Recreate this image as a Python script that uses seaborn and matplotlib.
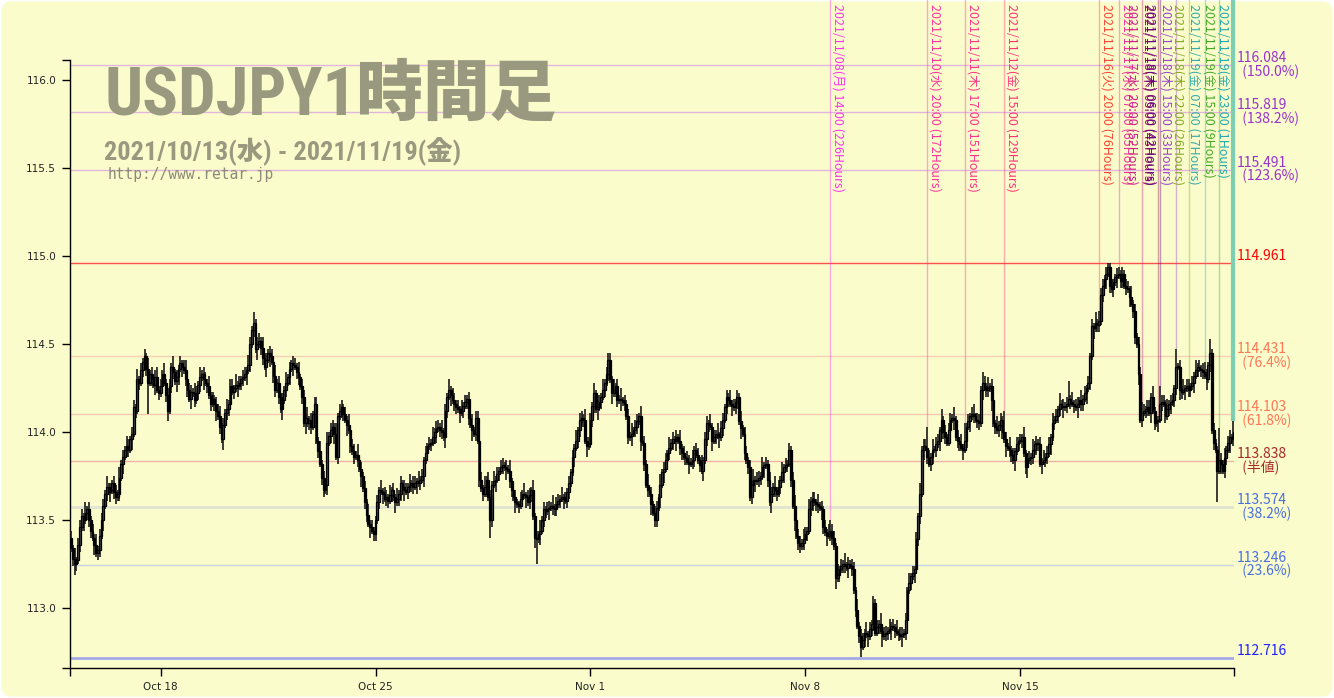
"""USDJPY 1-hour candles with fibonacci levels and time markers."""
import matplotlib
matplotlib.use("Agg")
import matplotlib.pyplot as plt
import numpy as np
import seaborn as sns
from matplotlib.patches import FancyBboxPatch

# hourly closes, in 0.01 yen above 112.00, one list per trading week
CLOSE_W0 = [134, 128, 125, 127, 136, 146, 152, 150, 154, 156, 150, 144, 140, 136, 131, 133, 141, 150, 158, 165,
            169, 166, 167, 171, 166, 163, 165, 174, 182, 186, 190, 192, 190, 196, 199, 214, 212, 230, 228, 235,
            240, 243, 236, 228, 233, 230, 227, 231, 224, 222]
CLOSE_W1 = [226, 233, 228, 221, 212, 226, 237, 234, 229, 231, 236, 239, 237, 235, 230, 224, 219, 223, 222, 218,
            222, 227, 231, 233, 230, 228, 226, 221, 216, 219, 216, 212, 209, 203, 196, 204, 211, 213, 216, 226,
            223, 225, 227, 226, 228, 230, 231, 233, 235, 238, 250, 258, 262, 247, 250, 252, 248, 242, 237, 241,
            245, 243, 240, 232, 224, 228, 220, 213, 218, 224, 228, 231, 236, 239, 238, 237, 234, 231, 226, 220,
            205, 208, 205, 207, 203, 210, 216, 195, 189, 182, 174, 167, 170, 194, 198, 201, 203, 199, 186, 209,
            212, 214, 210, 207, 204, 201, 192, 189, 186, 187, 184, 179, 175, 168, 160, 153, 148, 146, 144, 142]
CLOSE_W2 = [150, 160, 167, 166, 165, 162, 163, 161, 164, 167, 163, 160, 162, 165, 171, 169, 167, 166, 169, 170,
            171, 169, 171, 172, 171, 173, 175, 184, 188, 192, 193, 194, 197, 200, 202, 203, 201, 200, 197, 212,
            220, 224, 221, 218, 216, 214, 213, 211, 212, 215, 217, 219, 208, 204, 201, 199, 208, 195, 173, 168,
            165, 169, 173, 163, 150, 170, 172, 173, 176, 178, 180, 181, 180, 179, 178, 172, 167, 163, 160, 159,
            158, 162, 165, 164, 163, 160, 164, 167, 152, 140, 139, 142, 144, 150, 156, 155, 156, 157, 158, 157,
            156, 159, 161, 162, 163, 162, 161, 166, 171, 177, 186, 191, 195, 201, 207, 208, 207, 195, 192, 193]
CLOSE_W3 = [207, 215, 222, 213, 214, 217, 220, 224, 228, 233, 241, 230, 222, 224, 226, 218, 219, 218, 217, 216,
            209, 197, 198, 199, 201, 203, 206, 209, 195, 194, 182, 170, 167, 165, 159, 154, 150, 157, 163, 170,
            177, 179, 184, 188, 191, 194, 196, 195, 197, 195, 191, 188, 186, 185, 183, 182, 183, 184, 190, 187,
            184, 181, 178, 184, 196, 205, 204, 203, 195, 197, 199, 198, 197, 202, 207, 214, 220, 218, 216, 215,
            214, 217, 220, 206, 202, 199, 188, 184, 180, 163, 170, 173, 172, 173, 174, 175, 180, 181, 182, 173,
            160, 165, 169, 167, 165, 169, 173, 177, 180, 181, 182, 190, 173, 158, 150, 141, 137, 135, 137, 139]
CLOSE_W4 = [142, 144, 156, 161, 162, 160, 159, 158, 157, 156, 146, 143, 141, 142, 144, 140, 135, 117, 119, 122,
            124, 125, 124, 123, 125, 124, 122, 110, 99, 90, 84, 78, 82, 86, 85, 84, 88, 91, 103, 86,
            89, 91, 87, 84, 85, 86, 87, 88, 90, 89, 87, 86, 85, 84, 85, 86, 93, 110, 114, 118,
            120, 122, 139, 152, 165, 190, 192, 191, 186, 182, 186, 190, 190, 193, 195, 201, 207, 200, 197, 194,
            201, 207, 208, 207, 197, 195, 193, 191, 190, 195, 203, 206, 209, 210, 209, 207, 206, 205, 224, 228,
            226, 224, 225, 226, 218, 205, 203, 201, 204, 207, 200, 196, 192, 191, 190, 187, 184, 189, 193, 195]
CLOSE_W5 = [195, 197, 188, 180, 184, 185, 186, 190, 193, 194, 193, 182, 183, 184, 186, 188, 193, 197, 205, 207,
            209, 213, 216, 215, 214, 215, 216, 219, 217, 216, 215, 214, 216, 218, 216, 219, 222, 225, 228, 243,
            260, 259, 262, 261, 263, 278, 283, 287, 290, 294, 283, 281, 285, 288, 289, 290, 286, 290, 283, 282,
            281, 277, 273, 269, 254, 250, 233, 207, 211, 212, 213, 214, 211, 220, 212, 205, 206, 207, 216, 217,
            216, 209, 213, 216, 217, 218, 225, 237, 237, 224, 223, 224, 225, 226, 224, 226, 228, 232, 235, 237,
            236, 235, 234, 232, 230, 238, 245, 201, 194, 190, 178, 184, 182, 178, 185, 190, 194, 197, 196, 200]
OPEN0 = 113.40

# wicks beyond the body, one digit per hour, in steps of 0.02 yen
UP_W = ["2131222131" "2121312221" "3121221312" "1321221312" "1213121231",
        "2131221312" "1212312213" "2131221312" "1223121312" "2131212213" "2131221312"
        "1221312121" "3121221312" "2131212213" "1213122131" "2212131221" "3121213121",
        "1213122131" "2131212213" "1221312121" "2131221312" "1312212131" "2121312212"
        "1312213121" "2212131221" "1213122131" "2131212213" "1221312121" "2131221312",
        "2131221312" "2213121312" "1213122131" "2131212213" "1221312121" "3121221312"
        "2131221312" "1312212131" "2121312212" "1312213121" "2213121312" "1212312213",
        "2131221312" "1213322131" "2131212213" "1221312121" "2131221312" "1312212131"
        "2121312262" "1312213121" "2213121315" "1212312213" "2131221312" "1621312121",
        "2131221312" "1213122131" "2131212513" "1221312121" "2131322121" "1211221212"
        "2131212232" "1221312152" "2131221512" "1312212131" "2123214121" "1921312213"]
DN_W = ["1232121312" "2213122131" "2131221213" "1221312121" "2129121312",
        "1212312213" "2131221312" "1221312121" "2312131221" "1213122131" "2121312213"
        "1312212131" "2121312212" "1312214121" "2213121312" "1221312121" "2131221312",
        "2121312212" "1312213121" "2213121312" "1212312213" "2131221312" "1221312121"
        "2131521312" "1213122131" "2121312213" "7131221312" "2212131221" "1312212131",
        "1221312121" "2131221312" "1213122131" "2121312213" "1312212131" "2212131221"
        "1213122131" "2131212213" "1221312121" "2131221312" "1312212131" "2121312212",
        "1212312213" "2131221312" "1221312121" "2312131221" "1213122131" "2121312212"
        "1312213121" "2212131221" "1213122131" "2131212213" "1221312121" "2131221312",
        "1212312213" "2131221312" "1221312121" "2131221312" "1312212131" "2121312212"
        "1312213121" "2213121312" "1212312213" "2131221312" "1221312121" "9131221312"]
WICK_UNIT = 0.02

WEEK_STARTS = [50, 170, 290, 410, 530]
WEEK_LABELS = ["Oct 18", "Oct 25", "Nov 1", "Nov 8", "Nov 15"]
Y_TICKS = [113.0, 113.5, 114.0, 114.5, 115.0, 115.5, 116.0]

FIB_LEVELS = [116.084, 115.819, 115.491, 114.961, 114.431, 114.103, 113.838, 113.574, 113.246, 112.716]
FIB_NAMES = ["150.0%", "138.2%", "123.6%", None, "76.4%", "61.8%", "半値", "38.2%", "23.6%", None]
FIB_TEXT_COLORS = ["#9933cc", "#9933cc", "#9933cc", "#ff0000", "#ff7755", "#ff7755", "#aa2a2a",
                   "#4a6fe0", "#4a6fe0", "#2222ff"]
FIB_LINE_COLORS = ["#e2b6dc", "#e2b6dc", "#e2b6dc", "#ff5050", "#f6d2b4", "#f4c9b4", "#f0b4a6",
                   "#e2e4d2", "#c4d2e4", "#a4a8e8"]
FIB_LINE_WIDTHS = [1, 1, 1, 1, 1, 1, 1, 2, 1, 2]

MARK_HOURS = [226, 172, 151, 129, 76, 65, 52, 43, 42, 33, 26, 17, 9, 1]
MARK_TEXTS = ["2021/11/08(月) 14:00 (226Hours)", "2021/11/10(水) 20:00 (172Hours)",
              "2021/11/11(木) 17:00 (151Hours)", "2021/11/12(金) 15:00 (129Hours)",
              "2021/11/16(火) 20:00 (76Hours)", "2021/11/17(水) 07:00 (65Hours)",
              "2021/11/17(水) 20:00 (52Hours)", "2021/11/18(木) 05:00 (43Hours)",
              "2021/11/18(木) 06:00 (42Hours)", "2021/11/18(木) 15:00 (33Hours)",
              "2021/11/18(木) 22:00 (26Hours)", "2021/11/19(金) 07:00 (17Hours)",
              "2021/11/19(金) 15:00 (9Hours)", "2021/11/19(金) 23:00 (1Hours)"]
MARK_COLORS = ["#ff33ee", "#ff3399", "#ff3388", "#ff3377", "#ff4433", "#ee3399", "#cc2288", "#991155",
               "#660088", "#9944cc", "#88aa22", "#33aaaa", "#44aa22", "#22aaaa"]

BG = "#fafccc"
TITLE_GRAY = "#99997f"
TITLE_FAMILY = ["Roboto Condensed", "Open Sans Condensed", "DejaVu Sans Condensed",
                "Liberation Sans Narrow", "Noto Sans CJK JP"]

sns.set_style("ticks")
plt.rcParams["font.family"] = ["DejaVu Sans", "Noto Sans CJK JP"]

close = 112.0 + np.concatenate([CLOSE_W0, CLOSE_W1, CLOSE_W2, CLOSE_W3, CLOSE_W4, CLOSE_W5]) / 100.0
n = len(close)
idx = np.arange(n)
opn = np.r_[OPEN0, close[:-1]]
up = np.array([int(c) for c in "".join(UP_W)]) * WICK_UNIT
dn = np.array([int(c) for c in "".join(DN_W)]) * WICK_UNIT
high = np.maximum(opn, close) + up
low = np.minimum(opn, close) - dn

fig = plt.figure(figsize=(13.34, 6.98), dpi=100)
fig.patch.set_facecolor("white")
fig.patches.append(FancyBboxPatch((0.001, 0.002), 0.998, 0.996,
                                  boxstyle="round,pad=0,rounding_size=0.008",
                                  mutation_aspect=1334 / 698, transform=fig.transFigure,
                                  facecolor=BG, edgecolor="none", zorder=-10))

ax = fig.add_axes([70 / 1334, 30 / 698, 1164 / 1334, 608 / 698])
ax.set_facecolor("none")
ax.set_xlim(-0.6, 649.3)
ax.set_ylim(112.659, 116.114)

# fibonacci levels
for lvl, name, tc, lc, lw in zip(FIB_LEVELS, FIB_NAMES, FIB_TEXT_COLORS, FIB_LINE_COLORS, FIB_LINE_WIDTHS):
    ax.axhline(lvl, color=lc, lw=lw, zorder=1)
    if name is None:
        ax.text(1.002, lvl, f"{lvl:.3f}", color=tc, fontsize=10, family=["Noto Sans CJK JP"],
                transform=ax.get_yaxis_transform(), ha="left", va="bottom")
    else:
        ax.text(1.002, lvl, f"{lvl:.3f}\n  ({name})", color=tc, fontsize=10, family=["Noto Sans CJK JP"],
                transform=ax.get_yaxis_transform(), ha="left", va="center", linespacing=0.92)

# time markers from the top edge down to the candle high
for hrs, txt, col in zip(MARK_HOURS, MARK_TEXTS, MARK_COLORS):
    i = n - hrs
    ax.vlines(i, high[i], 116.46, color=col, alpha=0.4, lw=1, zorder=1.5, clip_on=False)
    if hrs >= 60:
        ax.text(i + 0.8, 116.43, txt, color=col, rotation=270, fontsize=9, ha="left", va="top",
                family=["Noto Sans CJK JP"], clip_on=False)
    else:
        ax.text(i - 2.2, 116.43, txt, color=col, rotation=270, fontsize=9, ha="right", va="top",
                family=["Noto Sans CJK JP"], clip_on=False)
ax.vlines(n - 1, high[n - 1], 116.46, color="#7ccfb2", lw=3, zorder=1.6, clip_on=False)

# candles
ax.vlines(idx, low, high, color="#1a1a1a", lw=1.2, zorder=3)
body_lo = np.minimum(opn, close)
body_h = np.maximum(np.abs(close - opn), 0.006)
colors = np.where(close >= opn, "#444444", "#000000")
ax.bar(idx, body_h, bottom=body_lo, width=1.0, color=colors, edgecolor="#000000", linewidth=0.9, zorder=4)

# axes
for side in ["top", "right"]:
    ax.spines[side].set_visible(False)
for side in ["left", "bottom"]:
    ax.spines[side].set_color("black")
    ax.spines[side].set_linewidth(1)
ax.set_yticks(Y_TICKS)
ax.set_yticklabels([f"{t:.1f}" for t in Y_TICKS])
ax.set_yticks([112.659, 116.114], minor=True)
ax.set_xticks(WEEK_STARTS)
ax.set_xticklabels(WEEK_LABELS)
ax.set_xticks([-0.6, 649.3], minor=True)
ax.tick_params(axis="both", which="both", length=6, width=1, color="black", labelsize=7.5,
               labelcolor="#222222", pad=4)
ax.grid(False)

# titles
fig.text(104 / 1334, 1 - 115 / 698, "USDJPY1時間足", fontsize=48, color=TITLE_GRAY, fontweight="heavy",
         family=TITLE_FAMILY, ha="left", va="baseline")
fig.text(104 / 1334, 1 - 160 / 698, "2021/10/13(水) - 2021/11/19(金)", fontsize=19, color=TITLE_GRAY,
         fontweight="heavy", family=TITLE_FAMILY, ha="left", va="baseline")
fig.text(108 / 1334, 1 - 179 / 698, "http://www.retar.jp", fontsize=10.5, color="#8a8a78",
         family=["DejaVu Sans Mono"], ha="left", va="baseline")

fig.savefig("out.png", dpi=100, facecolor=fig.get_facecolor())
plt.close(fig)
